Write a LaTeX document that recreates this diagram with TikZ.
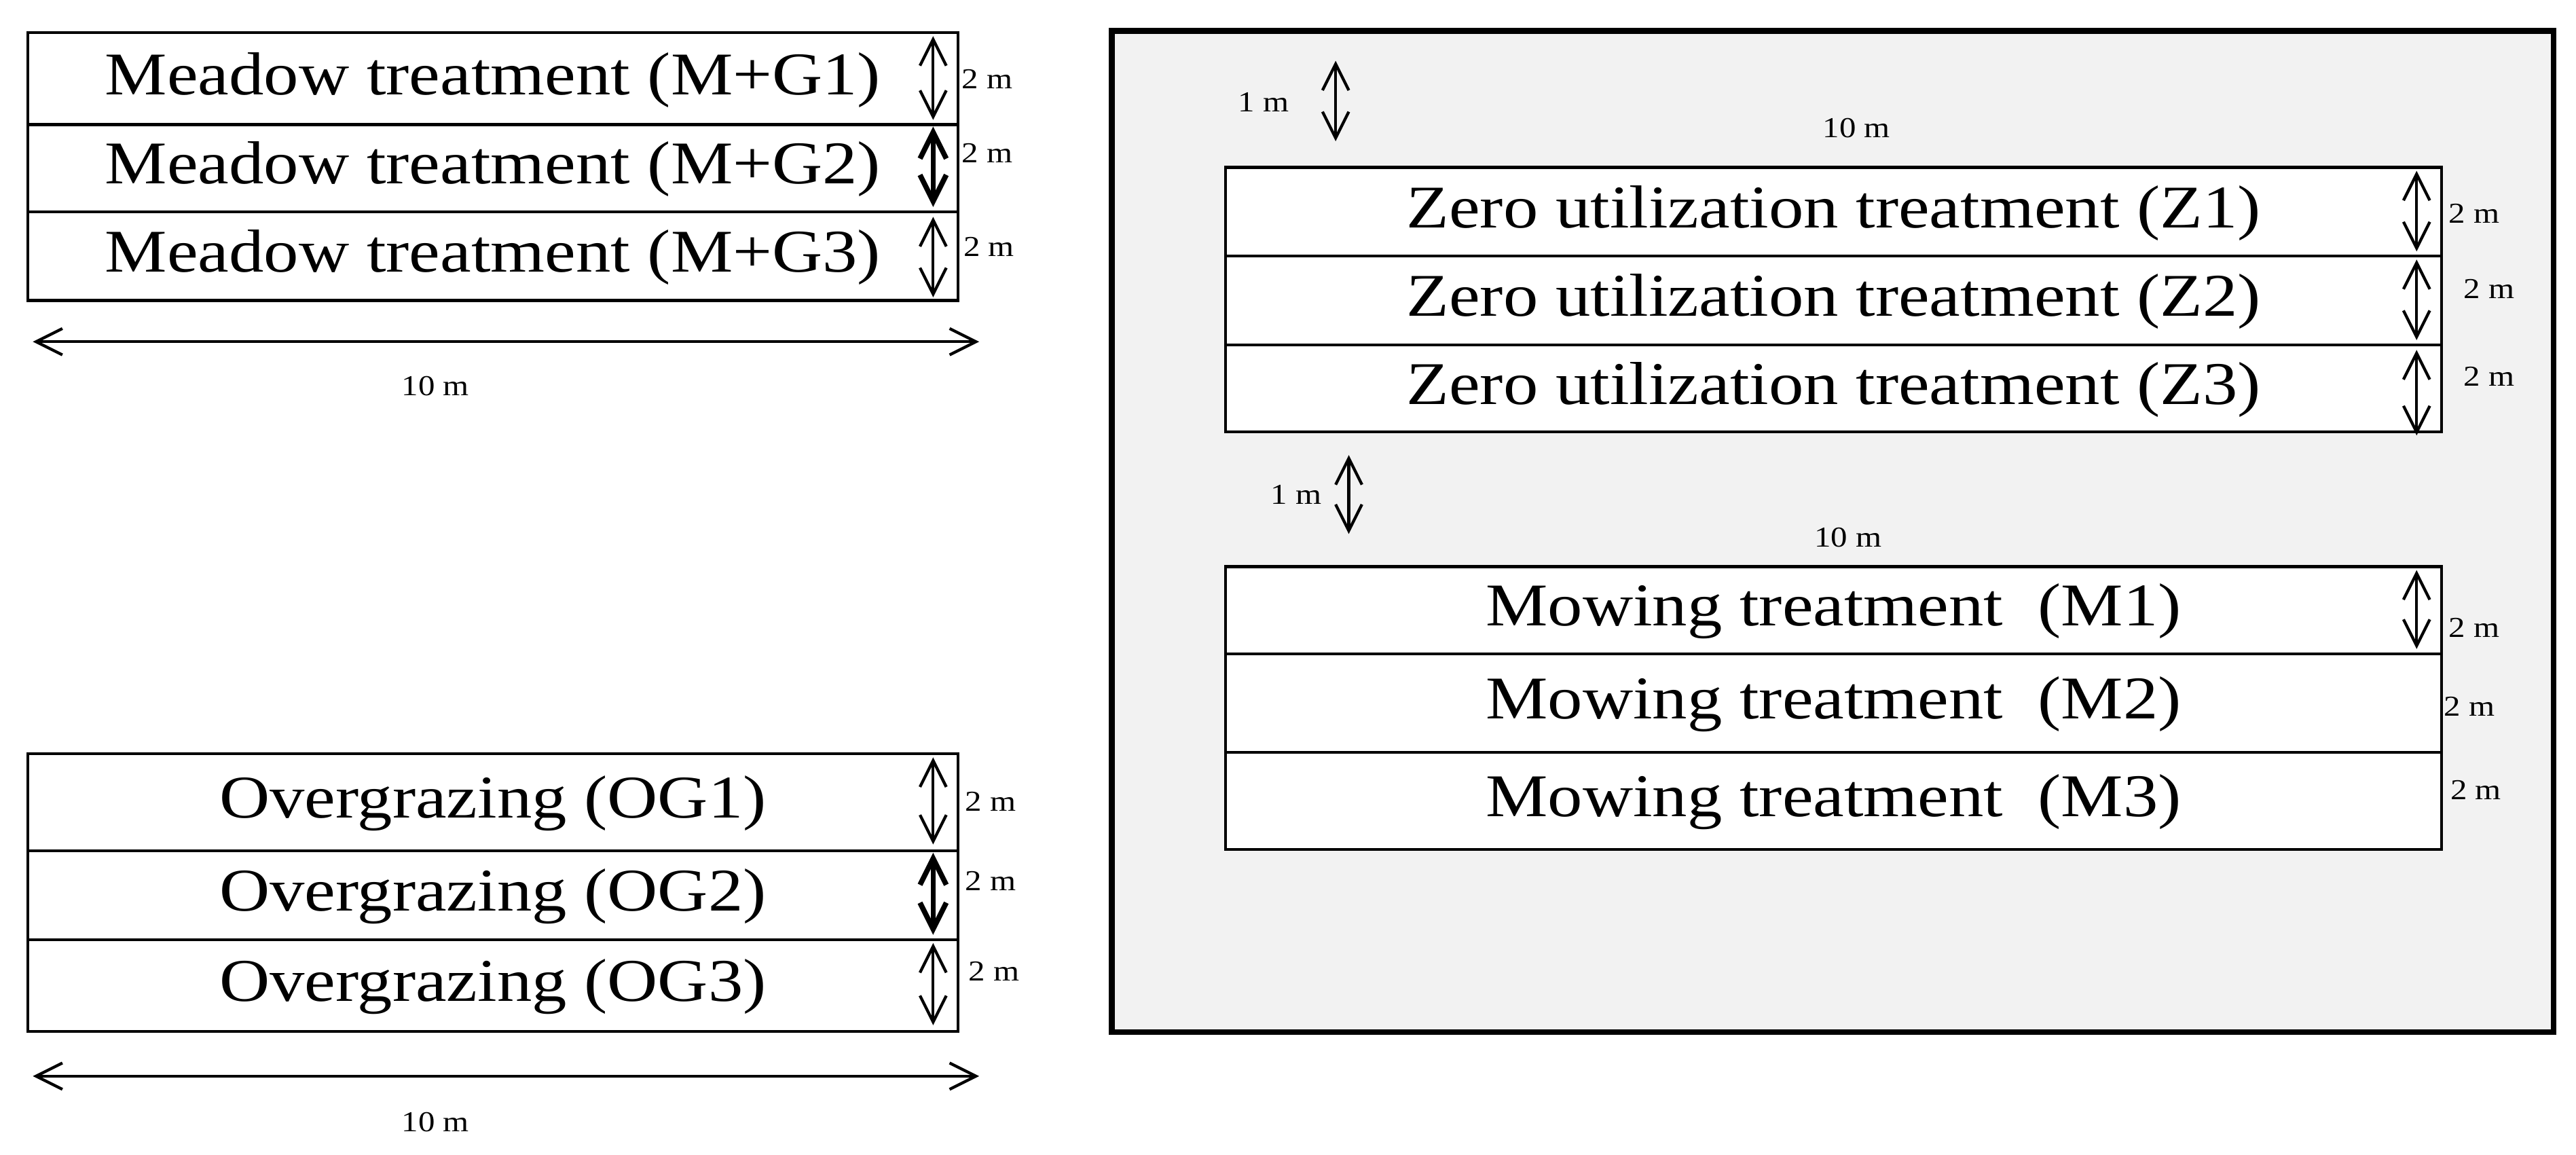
\documentclass[tikz,border=0pt]{standalone}
\usepackage{fontspec}
\setmainfont{Liberation Serif}[FakeStretch=1.15]
\usetikzlibrary{arrows.meta}
\begin{document}
\begin{tikzpicture}[x=0.01cm,y=-0.01cm,
  row/.style={draw,line width=0.5pt,fill=white,anchor=north west,inner sep=0,font=\fontsize{10.5}{12}\selectfont},
  lbl/.style={inner sep=0,font=\fontsize{5}{6}\selectfont},
  dim/.style={{Straight Barb[length=1.6mm,width=1.6mm]}-{Straight Barb[length=1.6mm,width=1.6mm]},line width=0.5pt}]
\useasboundingbox (0,0) rectangle (1568,703);
% left top
\foreach \n/\t/\y/\h in {mg1/M+G1/19/56, mg2/M+G2/75/53, mg3/M+G3/128/54}{
  \node[row,minimum width=5.66cm,minimum height=\h*0.01cm,text depth=0.4ex] (\n) at (16,\y) {Meadow treatment (\t)};
}
\draw[dim] (568,22) coordinate (a1) -- (568,73) coordinate (b1);
\draw[dim,line width=0.9pt] (568,77) coordinate (a2) -- (568,126) coordinate (b2);
\draw[dim] (568,132) coordinate (a3) -- (568,181) coordinate (b3);
\node[lbl] (l1) at (601,48) {2 m};
\node[lbl] (l2) at (601,93) {2 m};
\node[lbl] (l3) at (602,150) {2 m};
\coordinate (h1a) at (20,208); \coordinate (h1b) at (596,208);
\draw[dim] (h1a) -- (h1b);
\node[lbl] (t1) at (265,235) {10 m};
% left bottom
\foreach \n/\t/\y/\h in {og1/OG1/458/59, og2/OG2/517/54, og3/OG3/571/56}{
  \node[row,minimum width=5.66cm,minimum height=\h*0.01cm,text depth=0.4ex] (\n) at (16,\y) {Overgrazing (\t)};
}
\draw[dim] (568,461) -- (568,514);
\draw[dim,line width=0.9pt] (568,519) -- (568,569);
\draw[dim] (568,574) -- (568,624);
\node[lbl] (l4) at (603,488) {2 m};
\node[lbl] (l5) at (603,536) {2 m};
\node[lbl] (l6) at (605,591) {2 m};
\coordinate (h2a) at (20,655); \coordinate (h2b) at (596,655);
\draw[dim] (h2a) -- (h2b);
\node[lbl] (t2) at (265,683) {10 m};
% right frame
\node[draw,line width=1pt,fill=black!5,anchor=north west,minimum width=8.77cm,minimum height=6.09cm] (frame) at (675,17) {};
\foreach \n/\t/\y/\h in {z1/Z1/101/54, z2/Z2/155/54, z3/Z3/209/53}{
  \node[row,minimum width=7.40cm,minimum height=\h*0.01cm,text depth=0.4ex] (\n) at (745,\y) {Zero utilization treatment (\t)};
}
\foreach \n/\t/\y/\h in {m1/M1/344/53, m2/M2/397/60, m3/M3/457/59}{
  \node[row,minimum width=7.40cm,minimum height=\h*0.01cm,text depth=0.4ex] (\n) at (745,\y) {Mowing treatment~ (\t)};
}
\draw[dim] (1471,104) -- (1471,153);
\draw[dim] (1471,158) -- (1471,207);
\draw[dim] (1471,213) -- (1471,265);
\draw[dim] (1471,347) -- (1471,395);
\node[lbl] (r1) at (1506,130) {2 m};
\node[lbl] (r2) at (1515,176) {2 m};
\node[lbl] (r3) at (1515,229) {2 m};
\node[lbl] (r4) at (1506,382) {2 m};
\node[lbl] (r5) at (1503,430) {2 m};
\node[lbl] (r6) at (1507,481) {2 m};
\draw[dim] (813,37) -- (813,86);
\node[lbl] (o1) at (769,62) {1 m};
\node[lbl] (k1) at (1130,78) {10 m};
\draw[dim] (821,277) -- (821,325);
\node[lbl] (o2) at (789,301) {1 m};
\node[lbl] (k2) at (1125,327) {10 m};
\end{tikzpicture}
\end{document}
